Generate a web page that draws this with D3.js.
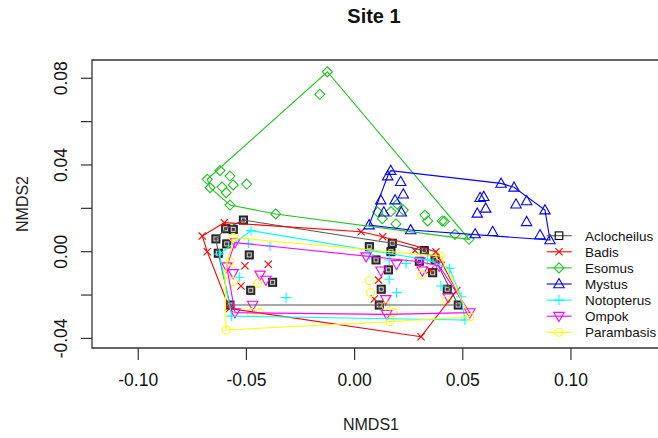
<!DOCTYPE html>
<html><head><meta charset="utf-8">
<script src="https://cdn.jsdelivr.net/npm/d3@7"></script>
<style>body{margin:0;background:#fff}svg{display:block}</style></head>
<body>
<script>
const species = ["Aclocheilus","Badis","Esomus","Mystus","Notopterus","Ompok","Parambasis"];
const colors = ["#000000","#ff0000","#22c322","#0000ff","#00ffff","#ff00ff","#ffff00"];
const hullColors = ["#555555","#ff0000","#22c322","#0000ff","#00ffff","#ff00ff","#ffff00"];
const shapes = ["square","cross","diamond","triangle","plus","triangleDown","circle"];

const aclocheilus = [[-0.0514,0.0146],[-0.0596,0.0106],[-0.0561,0.0103],[-0.0641,0.0059],[-0.0591,0.0036],[-0.0630,-0.0007],[-0.0487,-0.0015],[-0.0379,-0.0141],[-0.0480,-0.0178],[-0.0576,-0.0246],[0.0068,0.0023],[0.0174,0.0039],[0.0168,0.0000],[0.0099,-0.0038],[0.0156,-0.0084],[0.0123,-0.0173],[0.0114,-0.0246],[0.0322,0.0005],[0.0372,-0.0035],[0.0299,-0.0044],[0.0361,-0.0097],[0.0428,-0.0173],[0.0479,-0.0246]];
const badis = [[-0.0602,0.0134],[-0.0704,0.0072],[-0.0681,0.0000],[-0.0507,-0.0065],[-0.0399,-0.0058],[-0.0525,-0.0158],[-0.0578,-0.0262],[0.0030,0.0092],[0.0130,0.0069],[0.0111,-0.0131],[0.0091,-0.0218],[0.0279,0.0005],[0.0376,0.0000],[0.0349,-0.0084],[0.0472,-0.0180],[0.0307,-0.0392]];
const esomus = [[-0.0126,0.0830],[-0.0161,0.0726],[-0.0622,0.0374],[-0.0681,0.0334],[-0.0576,0.0349],[-0.0668,0.0295],[-0.0613,0.0298],[-0.0561,0.0308],[-0.0594,0.0272],[-0.0499,0.0312],[-0.0576,0.0215],[-0.0365,0.0174],[0.0107,0.0183],[0.0128,0.0152],[0.0168,0.0185],[0.0197,0.0219],[0.0225,0.0192],[0.0191,0.0128],[0.0325,0.0169],[0.0338,0.0142],[0.0405,0.0142],[0.0415,0.0140],[0.0464,0.0080],[0.0529,0.0057]];
const mystus = [[0.0167,0.0374],[0.0153,0.0349],[0.0213,0.0323],[0.0225,0.0265],[0.0121,0.0238],[0.0187,0.0238],[0.0135,0.0182],[0.0216,0.0182],[0.0067,0.0123],[0.0259,0.0100],[0.0557,0.0082],[0.0638,0.0092],[0.0677,0.0315],[0.0737,0.0297],[0.0580,0.0249],[0.0597,0.0254],[0.0606,0.0200],[0.0567,0.0177],[0.0746,0.0219],[0.0795,0.0234],[0.0795,0.0138],[0.0880,0.0192],[0.0857,0.0077],[0.0903,0.0054]];
const notopterus = [[-0.0479,0.0097],[-0.0491,0.0039],[-0.0391,0.0026],[-0.0625,-0.0011],[-0.0533,-0.0118],[-0.0317,-0.0212],[-0.0568,-0.0297],[0.0068,-0.0015],[0.0160,-0.0127],[0.0194,-0.0189],[0.0160,-0.0038],[0.0238,-0.0054],[0.0338,-0.0038],[0.0438,-0.0077],[0.0399,-0.0158],[0.0492,-0.0208],[0.0510,-0.0315]];
const ompok = [[-0.0553,0.0042],[-0.0591,-0.0069],[-0.0561,-0.0100],[-0.0437,-0.0107],[-0.0410,-0.0131],[-0.0471,-0.0246],[-0.0553,-0.0281],[0.0053,-0.0023],[0.0194,-0.0058],[0.0122,-0.0088],[0.0144,-0.0220],[0.0148,-0.0289],[0.0302,-0.0046],[0.0313,-0.0088],[0.0391,-0.0066],[0.0433,-0.0212],[0.0533,-0.0281]];
const parambasis = [[-0.0561,0.0065],[-0.0576,-0.0046],[-0.0599,-0.0107],[-0.0561,-0.0138],[-0.0448,-0.0146],[-0.0479,-0.0281],[-0.0437,-0.0281],[-0.0594,-0.0361],[0.0068,-0.0134],[0.0074,-0.0189],[0.0145,-0.0250],[0.0164,-0.0323],[0.0179,-0.0281],[0.0310,-0.0107],[0.0395,-0.0020],[0.0426,-0.0223],[0.0533,-0.0300]];
const seriesPoints = [aclocheilus, badis, esomus, mystus, notopterus, ompok, parambasis];

const xTicks = [-0.10,-0.05,0.00,0.05,0.10];
const xTickLabels = ["-0.10","-0.05","0.00","0.05","0.10"];
const yTicks = [-0.04,-0.02,0.00,0.02,0.04,0.06,0.08];
const yTickLabels = ["-0.04","","0.00","","0.04","","0.08"];
const title = "Site 1", xLabel = "NMDS1", yLabel = "NMDS2";

const W = 658, H = 438;
const L = 92, R = 665, T = 60, B = 348;
const x = d3.scaleLinear().domain([-0.12138, 0.14347]).range([L, R]);
const y = d3.scaleLinear().domain([-0.04442, 0.08842]).range([B, T]);

const svg = d3.select("body").append("svg").attr("width", W).attr("height", H)
  .style("font-family", "'Liberation Sans', Arial, sans-serif");

svg.append("text").attr("x", 374).attr("y", 23).attr("text-anchor", "middle")
  .style("font-size", "20px").style("font-weight", "bold").attr("fill", "#111").text(title);

const clip = svg.append("defs").append("clipPath").attr("id", "clip")
  .append("rect").attr("x", L).attr("y", T).attr("width", R - L).attr("height", B - T);

const plot = svg.append("g").attr("clip-path", "url(#clip)");

function symbol(g, shape, color, px, py, s) {
  const sw = 1.1;
  if (shape === "square") {
    g.append("rect").attr("x", px - 4).attr("y", py - 4).attr("width", 8).attr("height", 8)
      .attr("fill", "#3a3a3a").attr("stroke", "#111").attr("stroke-width", 1);
    g.append("rect").attr("x", px - 2).attr("y", py - 2).attr("width", 4).attr("height", 4)
      .attr("fill", "none").attr("stroke", "#ddd").attr("stroke-width", 0.9);
  } else if (shape === "squareOpen") {
    g.append("rect").attr("x", px - 3.8).attr("y", py - 3.8).attr("width", 7.6).attr("height", 7.6)
      .attr("fill", "none").attr("stroke", color).attr("stroke-width", sw);
  } else if (shape === "cross") {
    const d = 3.6;
    g.append("path").attr("d", `M${px-d},${py-d}L${px+d},${py+d}M${px-d},${py+d}L${px+d},${py-d}`)
      .attr("stroke", color).attr("stroke-width", sw).attr("fill", "none");
  } else if (shape === "plus") {
    const d = 5;
    g.append("path").attr("d", `M${px-d},${py}L${px+d},${py}M${px},${py-d}L${px},${py+d}`)
      .attr("stroke", color).attr("stroke-width", sw).attr("fill", "none");
  } else if (shape === "diamond") {
    const d = 5;
    g.append("path").attr("d", `M${px},${py-d}L${px+d},${py}L${px},${py+d}L${px-d},${py}Z`)
      .attr("stroke", color).attr("stroke-width", sw).attr("fill", "none");
  } else if (shape === "triangle") {
    const h = 4.6;
    g.append("path").attr("d", `M${px},${py-h-0.8}L${px+h+0.6},${py+h-0.8}L${px-h-0.6},${py+h-0.8}Z`)
      .attr("stroke", color).attr("stroke-width", sw).attr("fill", "none");
  } else if (shape === "triangleDown") {
    const h = 4.6;
    g.append("path").attr("d", `M${px},${py+h+0.8}L${px+h+0.6},${py-h+0.8}L${px-h-0.6},${py-h+0.8}Z`)
      .attr("stroke", color).attr("stroke-width", sw).attr("fill", "none");
  } else if (shape === "circle") {
    g.append("circle").attr("cx", px).attr("cy", py).attr("r", 4)
      .attr("stroke", color).attr("stroke-width", sw).attr("fill", "none");
  }
}

const line = d3.line().x(d => x(d[0])).y(d => y(d[1]));

// points
seriesPoints.forEach((pts, i) => {
  const g = plot.append("g");
  pts.forEach(p => symbol(g, shapes[i], colors[i], x(p[0]), y(p[1])));
});
// hulls
seriesPoints.forEach((pts, i) => {
  const hull = d3.polygonHull(pts);
  plot.append("path").attr("d", line(hull) + "Z").attr("fill", "none")
    .attr("stroke", hullColors[i]).attr("stroke-width", 1.1);
});

// box
svg.append("path").attr("d", `M${R},${T}L${L},${T}L${L},${B}L${R},${B}`)
  .attr("fill", "none").attr("stroke", "#333").attr("stroke-width", 1.3);

// x axis
const xa = svg.append("g");
xTicks.forEach((t, i) => {
  xa.append("line").attr("x1", x(t)).attr("x2", x(t)).attr("y1", B).attr("y2", B + 12)
    .attr("stroke", "#333").attr("stroke-width", 1.2);
  xa.append("text").attr("x", x(t)).attr("y", B + 38).attr("text-anchor", "middle")
    .style("font-size", "17.5px").attr("fill", "#111").text(xTickLabels[i]);
});
// y axis
const ya = svg.append("g");
yTicks.forEach((t, i) => {
  ya.append("line").attr("x1", L).attr("x2", L - 11).attr("y1", y(t)).attr("y2", y(t))
    .attr("stroke", "#333").attr("stroke-width", 1.2);
  if (yTickLabels[i]) {
    ya.append("text").attr("transform", `translate(${L - 25},${y(t)}) rotate(-90)`)
      .attr("text-anchor", "middle").style("font-size", "17.5px").attr("fill", "#111").text(yTickLabels[i]);
  }
});

svg.append("text").attr("x", 371).attr("y", 430).attr("text-anchor", "middle")
  .style("font-size", "16px").attr("fill", "#222").text(xLabel);
svg.append("text").attr("transform", `translate(28,204) rotate(-90)`).attr("text-anchor", "middle")
  .style("font-size", "16px").attr("fill", "#222").text(yLabel);

// legend
const lg = svg.append("g");
species.forEach((s, i) => {
  const ly = 235.7 + i * 16.1;
  lg.append("line").attr("x1", 546.7).attr("x2", 571.7).attr("y1", ly).attr("y2", ly)
    .attr("stroke", hullColors[i]).attr("stroke-width", 1.1);
  symbol(lg, shapes[i] === "square" ? "squareOpen" : shapes[i], colors[i], 559, ly);
  lg.append("text").attr("x", 585).attr("y", ly + 4.8).style("font-size", "13.5px")
    .attr("fill", "#111").text(s);
});
</script>
</body></html>
